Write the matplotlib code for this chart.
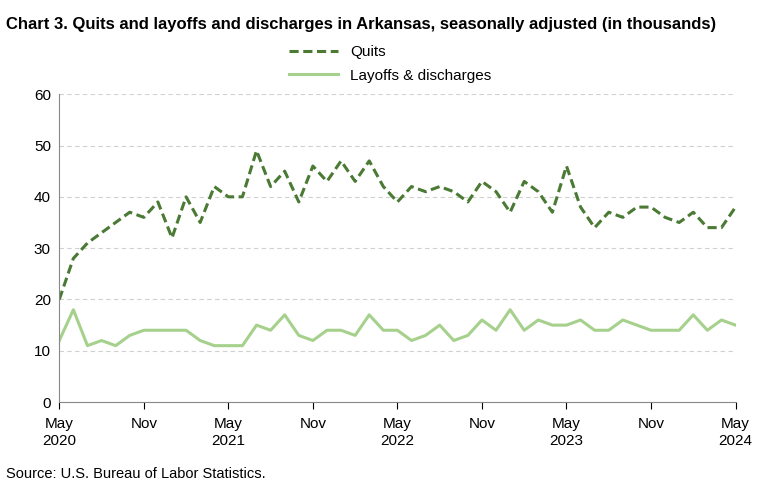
import matplotlib
matplotlib.use("Agg")
import matplotlib.pyplot as plt
import numpy as np

quits = [20, 28, 31, 33, 35, 37, 36, 39, 32, 40, 35, 42, 40, 40, 49, 42, 45, 39,
         46, 43, 47, 43, 47, 42, 39, 42, 41, 42, 41, 39, 43, 41, 37, 43, 41, 37,
         46, 38, 34, 37, 36, 38, 38, 36, 35, 37, 34, 34, 38]
layoffs = [12, 18, 11, 12, 11, 13, 14, 14, 14, 14, 12, 11, 11, 11, 15, 14, 17, 13,
           12, 14, 14, 13, 17, 14, 14, 12, 13, 15, 12, 13, 16, 14, 18, 14, 16, 15,
           15, 16, 14, 14, 16, 15, 14, 14, 14, 17, 14, 16, 15]
tick_labels = ["May\n2020", "Nov", "May\n2021", "Nov", "May\n2022", "Nov",
               "May\n2023", "Nov", "May\n2024"]

plt.rcParams["font.family"] = "Liberation Sans"
fig = plt.figure(figsize=(7.8, 4.88), dpi=100)
ax = fig.add_axes([0.076, 0.176, 0.867, 0.631])
x = np.arange(len(quits))
ax.plot(x, quits, color="#4a7a33", lw=2.2, ls=(0, (3, 1.5)), label="Quits")
ax.plot(x, layoffs, color="#a6d18c", lw=2.2, label="Layoffs & discharges")
ax.set_xlim(0, len(quits) - 1)
ax.set_ylim(0, 60)
ax.set_yticks(range(0, 61, 10))
ax.set_xticks(range(0, len(quits), 6))
ax.set_xticklabels(tick_labels)
ax.tick_params(labelsize=11, length=0, pad=6)
ax.tick_params(axis="x", length=5, direction="out")
ax.grid(axis="y", color="#d0d0d0", ls=(0, (4, 3)), lw=0.8)
for s in ["top", "right"]:
    ax.spines[s].set_visible(False)
ax.spines["left"].set_color("#888888")
ax.spines["bottom"].set_color("#888888")
fig.legend(loc="upper center", bbox_to_anchor=(0.5, 0.935), frameon=False,
           fontsize=11, handlelength=3.2, labelspacing=0.6)
fig.text(0.008, 0.965, "Chart 3. Quits and layoffs and discharges in Arkansas, seasonally adjusted (in thousands)",
         fontsize=12, fontweight="bold", va="top")
fig.text(0.008, 0.02, "Source: U.S. Bureau of Labor Statistics.", fontsize=10.5)
fig.savefig("out.png", dpi=100)
